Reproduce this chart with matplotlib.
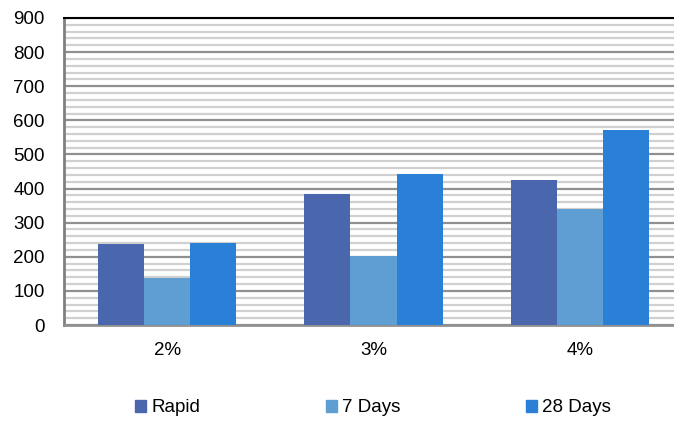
import matplotlib
matplotlib.use("Agg")
import matplotlib.pyplot as plt
import numpy as np
from matplotlib.ticker import MultipleLocator
from matplotlib.patches import Patch

categories = ["2%", "3%", "4%"]
series = ["Rapid", "7 Days", "28 Days"]
rapid = [238, 385, 424]
days7 = [139, 202, 339]
days28 = [240, 442, 571]
colors = ["#4A66AD", "#5F9ED2", "#2A7FD7"]

plt.rcParams['font.family'] = ['Liberation Sans', 'DejaVu Sans']
fs = 13.5

fig = plt.figure(figsize=(6.74, 4.21), dpi=100)
ax = fig.add_axes([64/674, 1-325/421, (683-64)/674, (325-18)/421])

x = np.arange(len(categories))
w = 0.223
for i, (vals, c) in enumerate(zip([rapid, days7, days28], colors)):
    ax.bar(x + (i-1)*w, vals, width=w, color=c, zorder=3)

ax.set_xlim(-0.5, 2.5)
ax.set_ylim(0, 900)
ax.yaxis.set_major_locator(MultipleLocator(100))
ax.yaxis.set_minor_locator(MultipleLocator(20))
ax.grid(which='minor', axis='y', color='#d0d0d0', linewidth=1.6, zorder=0)
ax.grid(which='major', axis='y', color='#909090', linewidth=1.6, zorder=1)
ax.set_xticks(x)
ax.set_xticklabels(categories)
ax.tick_params(axis='both', which='both', length=0, labelsize=fs)
ax.tick_params(axis='y', pad=14)
ax.tick_params(axis='x', pad=12)

ax.spines['right'].set_visible(False)
ax.spines['top'].set_color('black')
ax.spines['top'].set_linewidth(1.5)
ax.spines['left'].set_color('#808080')
ax.spines['left'].set_linewidth(2)
ax.spines['bottom'].set_color('#909090')
ax.spines['bottom'].set_linewidth(2)
ax.spines['top'].set_zorder(5)

handles = [Patch(color=c, label=s) for s, c in zip(series, colors)]
fig.legend(handles=handles, loc='center', bbox_to_anchor=(373/674, 1-408/421),
           ncol=3, frameon=False, fontsize=fs, handlelength=0.59,
           handleheight=0.59, handletextpad=0.27, columnspacing=6.7)

fig.savefig("out.png", dpi=100)
